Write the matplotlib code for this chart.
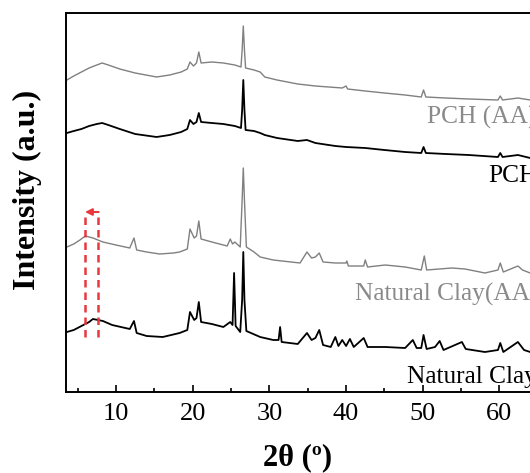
import matplotlib
matplotlib.use("Agg")
import matplotlib.pyplot as plt
from matplotlib.ticker import MultipleLocator

# ---- data (2theta in degrees, intensity in arbitrary units, offsets included) ----
pch_aa_x = [3.6, 4.5, 5.5, 6.5, 7.5, 8.2, 9.0, 10.5, 12.5, 15.3, 17.0, 18.5, 19.3, 19.65, 20.1, 20.5, 20.8, 21.1,
            22.5, 24.0, 25.5, 26.3, 26.45, 26.6, 26.75, 26.9, 28.0, 28.8, 29.4, 31.0, 33.7, 36.0, 39.5, 40.0, 40.2,
            42.5, 45.0, 47.7, 49.8, 50.1, 50.4, 53.0, 56.0, 59.8, 60.1, 60.4, 62.4, 64.0, 70.0]
pch_aa_px = [80, 76, 72, 68, 65, 63, 65, 69, 73, 77, 75, 72, 69, 62, 66, 63, 52, 63,
             62, 63, 65, 67, 50, 26, 50, 68, 70, 72, 77, 80, 84, 86, 88, 86, 89,
             91, 93, 95, 97, 90, 97, 98, 99, 100, 96, 100, 98, 100, 101]

pch_x = [3.6, 4.5, 5.5, 6.5, 7.5, 8.2, 9.0, 10.5, 12.5, 15.3, 17.0, 18.5, 19.3, 19.65, 20.1, 20.5, 20.8, 21.1,
         22.5, 24.0, 25.5, 26.3, 26.45, 26.6, 26.75, 26.9, 28.0, 28.8, 29.4, 31.0, 33.7, 34.9, 36.0, 38.6, 40.0,
         42.5, 45.0, 47.7, 49.8, 50.1, 50.4, 53.0, 56.0, 59.8, 60.1, 60.4, 62.4, 64.0, 70.0]
pch_px = [133, 131, 129, 126, 124, 123, 125, 129, 134, 137, 135, 132, 129, 120, 124, 122, 113, 122,
          123, 124, 126, 128, 110, 80, 110, 130, 131, 133, 135, 138, 141, 140, 143, 146, 147,
          148, 150, 152, 153, 147, 153, 154, 155, 157, 153, 157, 155, 158, 159]

clay_aa_x = [3.6, 4.5, 5.3, 6.0, 7.0, 8.3, 10.0, 11.8, 12.35, 12.7, 14.0, 15.7, 17.5, 18.3, 19.3, 19.65, 20.2,
             20.5, 20.8, 21.1, 22.5, 24.0, 24.5, 24.9, 25.2, 25.5, 26.2, 26.45, 26.6, 26.75, 27.0, 28.0, 28.8,
             30.5, 34.0, 34.9, 35.5, 36.0, 36.5, 37.0, 38.6, 40.0, 40.1, 40.3, 42.3, 42.5, 42.8, 45.1, 47.7,
             49.8, 50.2, 50.5, 53.8, 55.5, 58.1, 59.8, 60.1, 60.5, 62.4, 63.0, 64.0, 70.0]
clay_aa_px = [247, 244, 240, 236, 238, 242, 245, 248, 238, 250, 252, 254, 253, 252, 249, 229, 238,
              236, 221, 239, 242, 245, 246, 239, 244, 242, 247, 200, 168, 200, 247, 252, 257,
              260, 263, 252, 258, 257, 253, 262, 263, 263, 261, 266, 266, 260, 267, 265, 267,
              270, 256, 270, 268, 269, 273, 270, 263, 272, 266, 270, 273, 275]

clay_x = [3.6, 4.5, 5.5, 6.5, 7.0, 8.3, 9.5, 11.8, 12.35, 12.7, 14.0, 16.1, 18.3, 19.3, 19.65, 20.2, 20.5,
          20.8, 21.1, 22.5, 24.0, 24.9, 25.2, 25.4, 25.6, 26.2, 26.45, 26.6, 26.75, 27.0, 28.8, 30.5, 31.2,
          31.4, 31.6, 33.7, 34.9, 35.5, 36.0, 36.5, 37.0, 38.0, 38.6, 39.0, 39.5, 40.0, 40.5, 41.0, 42.3,
          42.8, 45.1, 47.7, 48.7, 49.2, 49.8, 50.1, 50.5, 51.6, 52.2, 52.7, 55.1, 55.6, 58.1, 59.8, 60.1,
          60.5, 62.4, 63.2, 64.0, 70.0]
clay_px = [332, 330, 326, 322, 319, 321, 325, 329, 321, 333, 336, 337, 333, 330, 312, 320, 318,
           302, 322, 324, 327, 322, 325, 273, 326, 332, 300, 252, 300, 331, 337, 340, 340,
           327, 342, 344, 333, 340, 338, 330, 345, 347, 337, 346, 340, 346, 339, 347, 338,
           347, 347, 348, 340, 348, 348, 335, 349, 347, 341, 350, 342, 349, 352, 350, 343,
           352, 342, 350, 352, 355]

labels = ["PCH (AA)", "PCH", "Natural Clay(AA)", "Natural Clay"]
label_x = [50.55, 58.5, 41.16, 47.94]
label_px = [117, 176, 294, 377]

marker_lines_x = [6.0, 7.6]
arrow_x = [8.1, 5.6]

BASE = 392  # baseline of axis (image row)


def inten(vals):
    return [BASE - v for v in vals]


plt.rcParams['font.family'] = ['Liberation Serif', 'DejaVu Serif']

XMAX = 68
fig = plt.figure(figsize=(5.30, 4.73), dpi=100)
right_px = 116 + (XMAX - 10) * 7.67
ax = fig.add_axes([66.1 / 530, 81 / 473, (right_px - 66.1) / 530, 379 / 473])

gray = '#808080'
ax.plot(pch_aa_x, inten(pch_aa_px), color=gray, lw=1.0)
ax.plot(pch_x, inten(pch_px), color='black', lw=1.3)
ax.plot(clay_aa_x, inten(clay_aa_px), color=gray, lw=1.0)
ax.plot(clay_x, inten(clay_px), color='black', lw=1.3)

red = '#e8383d'
for xv in marker_lines_x:
    ax.plot([xv, xv], [BASE - 337, BASE - 215], color=red, lw=1.8, ls=(0, (3, 2)))
ax.annotate('', xy=(arrow_x[1], BASE - 212), xytext=(arrow_x[0], BASE - 212),
            arrowprops=dict(arrowstyle='-|>', color=red, lw=1.5, mutation_scale=10))

text_colors = ['#8a8a8a', 'black', '#8a8a8a', 'black']
for t, xv, pv, c in zip(labels, label_x, label_px, text_colors):
    ax.text(xv, BASE - pv, t, color=c, fontsize=18.3, ha='left', va='center', clip_on=False)

ax.set_xlim(3.5, XMAX)
ax.set_ylim(0, 379)
ax.set_yticks([])
ax.xaxis.set_major_locator(MultipleLocator(10))
ax.xaxis.set_minor_locator(MultipleLocator(5))
ax.tick_params(axis='x', which='major', direction='in', length=5, width=1.2, labelsize=19, pad=8)
ax.tick_params(axis='x', which='minor', direction='in', length=3, width=1.2)
for s in ax.spines.values():
    s.set_linewidth(1.4)

fig.text(298 / 530, 1 - 458 / 473, '2θ (º)', fontsize=22, fontweight='bold', ha='center', va='center')
fig.text(27 / 530, 1 - 190 / 473, 'Intensity (a.u.)', fontsize=23, fontweight='bold', rotation=90,
         ha='center', va='center')

fig.savefig('out.png', dpi=100, facecolor='white')
